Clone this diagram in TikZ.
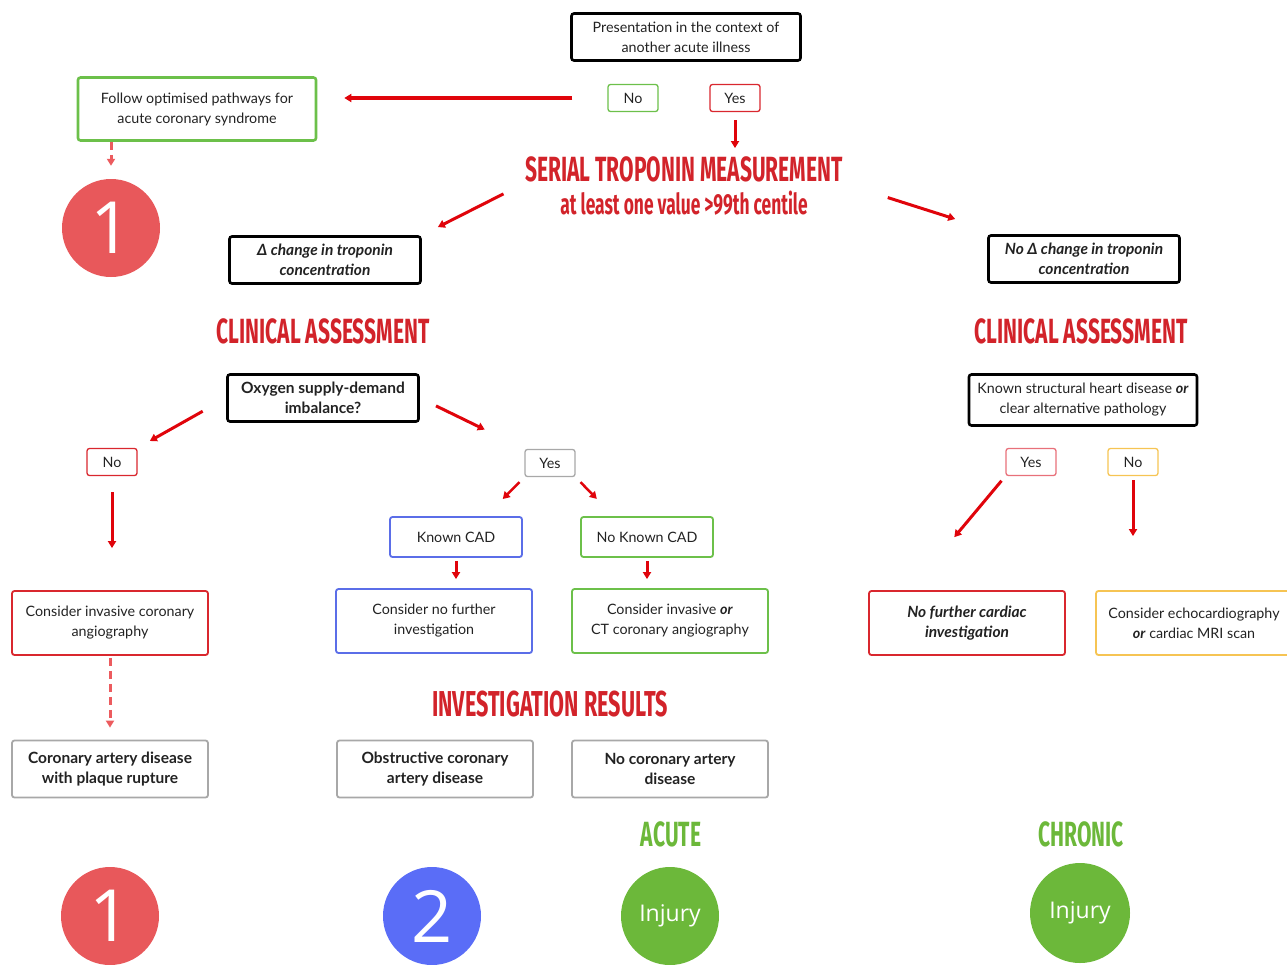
\documentclass[tikz,border=0pt]{standalone}
\usepackage{fontspec}
\usetikzlibrary{arrows.meta}
\newfontfamily\bodyfont{Lato}
\newfontfamily\headfont[FakeStretch=0.6]{Fira Sans}
\newfontfamily\numfont{Open Sans}
\newcommand\bodysize{\fontsize{14.3}{20}\selectfont}
\newcommand\boldsize{\fontsize{15.5}{20}\selectfont}
\definecolor{arrred}{HTML}{E0040B}
\definecolor{headred}{HTML}{D2232A}
\definecolor{dashred}{HTML}{EC5B5E}
\definecolor{badgered}{HTML}{E8585B}
\definecolor{badgeblue}{HTML}{5A6DF7}
\definecolor{badgegreen}{HTML}{6CB83A}
\definecolor{boxgreen}{HTML}{6CC04A}
\definecolor{boxred}{HTML}{D9272E}
\definecolor{pinkred}{HTML}{E8707A}
\definecolor{boxblue}{HTML}{5B6EE8}
\definecolor{boxorange}{HTML}{F6C453}
\definecolor{boxgray}{HTML}{A8A8A8}
\definecolor{txtgray}{HTML}{222222}
\begin{document}
\begin{tikzpicture}[x=1pt, y=-1pt,
    box/.style={rectangle, draw, rounded corners=2.5pt, align=center, inner sep=0pt, text=txtgray, font=\bodyfont\bodysize, line width=1.8pt},
    bigbox/.style={box, line width=2.6pt, minimum width=191pt, minimum height=47pt},
    choice/.style={box, line width=1.3pt, minimum width=50pt, minimum height=27pt},
    outcome/.style={box, minimum width=196pt, minimum height=64pt},
    result/.style={box, draw=boxgray, minimum width=196pt, minimum height=57pt, font=\bodyfont\bfseries\boldsize},
    bolditalic/.style={font=\bodyfont\bfseries\itshape\boldsize},
    head/.style={text=headred, inner sep=2pt, font=\headfont\bfseries\fontsize{35}{40}\selectfont},
    badge/.style={circle, minimum size=98pt, inner sep=0pt, text=white},
    arr/.style={-{Triangle[length=7pt,width=8pt]}, draw=arrred, line width=3pt},
    dasharr/.style={arr, draw=dashred, dash pattern=on 8pt off 5pt}]
  \useasboundingbox (0,0) rectangle (1287,964);
  \node (pres) [bigbox, minimum width=229pt] at (686,37) {Presentation in the context of\\another acute illness};
  \node (no1) [choice, draw=boxgreen] at (633,98) {No};
  \node (yes1) [choice, draw=boxred] at (735,98) {Yes};
  \node (follow) [bigbox, draw=boxgreen, minimum width=238pt, minimum height=63pt] at (197,109) {Follow optimised pathways for\\acute coronary syndrome};
  \node (topone) [badge, fill=badgered] at (111,228) {\numfont\fontsize{72}{72}\selectfont 1};
  \node (serial) [head] at (684,169) {SERIAL TROPONIN MEASUREMENT};
  \node (serialsub) [head, font=\headfont\bfseries\fontsize{29}{32}\selectfont] at (684,203) {at least one value >99th centile};
  \node (delta) [bigbox, bolditalic] at (325,260) {Δ change in troponin\\concentration};
  \node (nodelta) [bigbox, bolditalic] at (1084,259) {No Δ change in troponin\\concentration};
  \node (clin1) [head] at (323,331) {CLINICAL ASSESSMENT};
  \node (clin2) [head] at (1081,331) {CLINICAL ASSESSMENT};
  \node (oxygen) [bigbox, font=\bodyfont\bfseries\boldsize] at (323,398) {Oxygen supply-demand\\imbalance?};
  \node (struct) [bigbox, minimum width=228pt, minimum height=51pt] at (1083,400) {Known structural heart disease \textbf{\textit{or}}\\clear alternative pathology};
  \node (no2) [choice, draw=boxred] at (112,462) {No};
  \node (yes2) [choice, draw=boxgray] at (550,463) {Yes};
  \node (cad) [box, draw=boxblue, minimum width=132pt, minimum height=40pt] at (456,537) {Known CAD};
  \node (nocad) [box, draw=boxgreen, minimum width=132pt, minimum height=40pt] at (647,537) {No Known CAD};
  \node (invcor) [outcome, draw=boxred] at (110,623) {Consider invasive coronary\\angiography};
  \node (nofurther) [outcome, draw=boxblue] at (434,621) {Consider no further\\investigation};
  \node (invct) [outcome, draw=boxgreen] at (670,621) {Consider invasive \textbf{\textit{or}}\\CT coronary angiography};
  \node (yes3) [choice, draw=pinkred] at (1031,462) {Yes};
  \node (no3) [choice, draw=boxorange] at (1133,462) {No};
  \node (nocardiac) [outcome, draw=boxred, bolditalic] at (967,623) {No further cardiac\\investigation};
  \node (echo) [outcome, draw=boxorange] at (1194,623) {Consider echocardiography\\\textbf{\textit{or}} cardiac MRI scan};
  \node (invres) [head, font=\headfont\bfseries\fontsize{36}{40}\selectfont] at (550,704) {INVESTIGATION RESULTS};
  \node (plaque) [result] at (110,769) {Coronary artery disease\\with plaque rupture};
  \node (obstr) [result] at (435,769) {Obstructive coronary\\artery disease};
  \node (nocor) [result] at (670,769) {No coronary artery\\disease};
  \node (acute) [head, text=badgegreen] at (671,834) {ACUTE};
  \node (chronic) [head, text=badgegreen] at (1081,834) {CHRONIC};
  \node (one) [badge, fill=badgered] at (110,916) {\numfont\fontsize{72}{72}\selectfont 1};
  \node (two) [badge, fill=badgeblue] at (432,916) {\numfont\fontsize{72}{72}\selectfont 2};
  \node (acinj) [badge, fill=badgegreen] at (670,916) {\numfont\fontsize{23}{30}\selectfont Injury};
  \node (chinj) [badge, fill=badgegreen, minimum size=100pt] at (1080,913) {\numfont\fontsize{23}{30}\selectfont Injury};
  \draw [arr, line width=3.5pt, shorten <=35pt, shorten >=27pt] (no1.west) -- (no1.west -| follow.east);
  \draw [dasharr, shorten >=13pt] (follow.south -| topone) -- (topone.north);
  \draw [arr, shorten <=8pt, shorten >=6pt] (yes1.south) -- (yes1.south |- serial.north);
  \draw [arr, shorten <=22pt, shorten >=18pt] (serial.south west) -- (delta.north east);
  \draw [arr, shorten <=45pt, shorten >=50pt] (serial.south east) -- (nodelta.163);
  \draw [arr, shorten <=27pt, shorten >=14pt] (oxygen.west) -- (no2.north east);
  \draw [arr, shorten <=18pt, shorten >=44pt] (oxygen.east) -- (yes2.north west);
  \draw [arr, line width=2.5pt, shorten <=7pt, shorten >=24pt] (yes2.south west) -- (cad.35);
  \draw [arr, line width=2.5pt, shorten <=7pt, shorten >=24pt] (yes2.south east) -- (nocad.148);
  \draw [arr, shorten <=16pt, shorten >=42pt] (no2.south) -- (no2.south |- invcor.north);
  \draw [arr, shorten <=3pt, shorten >=9pt] (cad.south) -- (cad.south |- nofurther.north);
  \draw [arr, shorten <=3pt, shorten >=9pt] (nocad.south) -- (nocad.south |- invct.north);
  \draw [dasharr, shorten <=2pt, shorten >=12pt] (invcor.south) -- (plaque.north);
  \draw [arr, shorten <=6pt, shorten >=69pt] (yes3.south west) -- (nocardiac.150);
  \draw [arr, shorten <=4pt, shorten >=54pt] (no3.south) -- (no3.south |- echo.north);
\end{tikzpicture}
\end{document}
